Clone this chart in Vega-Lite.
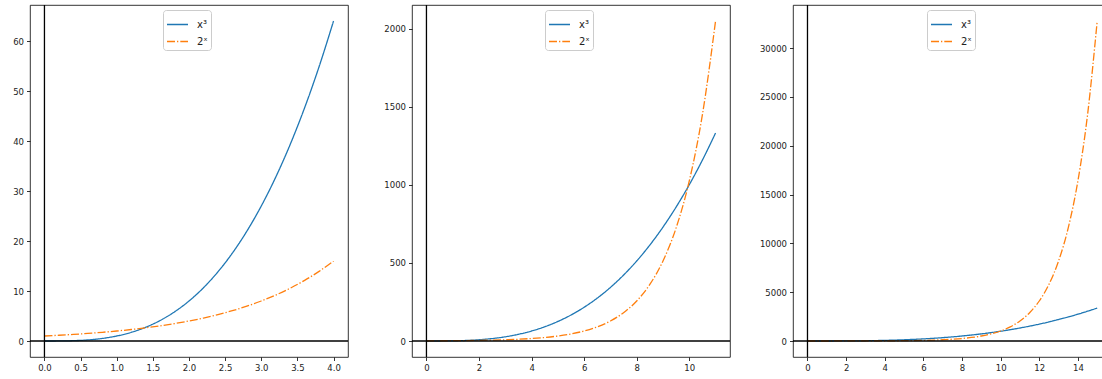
{
  "$schema": "https://vega.github.io/schema/vega-lite/v6.json",
  "padding": {"left": 0, "top": 3, "right": 0, "bottom": 0},
  "spacing": 0,
  "background": "white",
  "config": {
    "font": "DejaVu Sans",
    "view": {"stroke": "#000", "strokeWidth": 0.8},
    "axis": {"domain": false, "grid": false, "ticks": true, "tickColor": "#000", "tickSize": 3.5, "tickWidth": 0.8, "labelPadding": 3, "labelFont": "DejaVu Sans", "labelFontSize": 8.5, "labelColor": "#222", "title": null, "labelOverlap": false},
    "legend": {"orient": "none", "title": null, "symbolType": "stroke", "symbolSize": 441, "symbolStrokeWidth": 1.3, "labelFont": "DejaVu Sans", "labelFontSize": 10, "labelColor": "#222", "fillColor": "rgba(255,255,255,0.8)", "strokeColor": "#cccccc", "cornerRadius": 3, "padding": 3, "labelOffset": 8, "rowPadding": -6}
  },
  "resolve": {"legend": {"color": "independent", "strokeDash": "independent"}},
  "datasets": {
    "p1": [
      {"x":0,"f":"x³","y":0},{"x":0.2,"f":"x³","y":0.008},{"x":0.4,"f":"x³","y":0.064},{"x":0.6,"f":"x³","y":0.216},{"x":0.8,"f":"x³","y":0.512},{"x":1,"f":"x³","y":1},{"x":1.2,"f":"x³","y":1.728},{"x":1.4,"f":"x³","y":2.744},{"x":1.6,"f":"x³","y":4.096},{"x":1.8,"f":"x³","y":5.832},{"x":2,"f":"x³","y":8},{"x":2.2,"f":"x³","y":10.648},{"x":2.4,"f":"x³","y":13.824},{"x":2.6,"f":"x³","y":17.576},{"x":2.8,"f":"x³","y":21.952},{"x":3,"f":"x³","y":27},{"x":3.2,"f":"x³","y":32.768},{"x":3.4,"f":"x³","y":39.304},{"x":3.6,"f":"x³","y":46.656},{"x":3.8,"f":"x³","y":54.872},{"x":4,"f":"x³","y":64},
      {"x":0,"f":"2ˣ","y":1},{"x":0.2,"f":"2ˣ","y":1.149},{"x":0.4,"f":"2ˣ","y":1.32},{"x":0.6,"f":"2ˣ","y":1.516},{"x":0.8,"f":"2ˣ","y":1.741},{"x":1,"f":"2ˣ","y":2},{"x":1.2,"f":"2ˣ","y":2.297},{"x":1.4,"f":"2ˣ","y":2.639},{"x":1.6,"f":"2ˣ","y":3.031},{"x":1.8,"f":"2ˣ","y":3.482},{"x":2,"f":"2ˣ","y":4},{"x":2.2,"f":"2ˣ","y":4.595},{"x":2.4,"f":"2ˣ","y":5.278},{"x":2.6,"f":"2ˣ","y":6.063},{"x":2.8,"f":"2ˣ","y":6.964},{"x":3,"f":"2ˣ","y":8},{"x":3.2,"f":"2ˣ","y":9.19},{"x":3.4,"f":"2ˣ","y":10.556},{"x":3.6,"f":"2ˣ","y":12.126},{"x":3.8,"f":"2ˣ","y":13.929},{"x":4,"f":"2ˣ","y":16}
    ],
    "p2": [
      {"x":0,"f":"x³","y":0},{"x":0.5,"f":"x³","y":0.125},{"x":1,"f":"x³","y":1},{"x":1.5,"f":"x³","y":3.375},{"x":2,"f":"x³","y":8},{"x":2.5,"f":"x³","y":15.625},{"x":3,"f":"x³","y":27},{"x":3.5,"f":"x³","y":42.875},{"x":4,"f":"x³","y":64},{"x":4.5,"f":"x³","y":91.125},{"x":5,"f":"x³","y":125},{"x":5.5,"f":"x³","y":166.375},{"x":6,"f":"x³","y":216},{"x":6.5,"f":"x³","y":274.625},{"x":7,"f":"x³","y":343},{"x":7.5,"f":"x³","y":421.875},{"x":8,"f":"x³","y":512},{"x":8.5,"f":"x³","y":614.125},{"x":9,"f":"x³","y":729},{"x":9.5,"f":"x³","y":857.375},{"x":10,"f":"x³","y":1000},{"x":10.5,"f":"x³","y":1157.625},{"x":11,"f":"x³","y":1331},
      {"x":0,"f":"2ˣ","y":1},{"x":0.5,"f":"2ˣ","y":1.414},{"x":1,"f":"2ˣ","y":2},{"x":1.5,"f":"2ˣ","y":2.828},{"x":2,"f":"2ˣ","y":4},{"x":2.5,"f":"2ˣ","y":5.657},{"x":3,"f":"2ˣ","y":8},{"x":3.5,"f":"2ˣ","y":11.314},{"x":4,"f":"2ˣ","y":16},{"x":4.5,"f":"2ˣ","y":22.627},{"x":5,"f":"2ˣ","y":32},{"x":5.5,"f":"2ˣ","y":45.255},{"x":6,"f":"2ˣ","y":64},{"x":6.5,"f":"2ˣ","y":90.51},{"x":7,"f":"2ˣ","y":128},{"x":7.5,"f":"2ˣ","y":181.02},{"x":8,"f":"2ˣ","y":256},{"x":8.5,"f":"2ˣ","y":362.04},{"x":9,"f":"2ˣ","y":512},{"x":9.5,"f":"2ˣ","y":724.08},{"x":10,"f":"2ˣ","y":1024},{"x":10.5,"f":"2ˣ","y":1448.15},{"x":11,"f":"2ˣ","y":2048}
    ],
    "p3": [
      {"x":0,"f":"x³","y":0},{"x":0.5,"f":"x³","y":0.125},{"x":1,"f":"x³","y":1},{"x":1.5,"f":"x³","y":3.375},{"x":2,"f":"x³","y":8},{"x":2.5,"f":"x³","y":15.625},{"x":3,"f":"x³","y":27},{"x":3.5,"f":"x³","y":42.875},{"x":4,"f":"x³","y":64},{"x":4.5,"f":"x³","y":91.125},{"x":5,"f":"x³","y":125},{"x":5.5,"f":"x³","y":166.375},{"x":6,"f":"x³","y":216},{"x":6.5,"f":"x³","y":274.625},{"x":7,"f":"x³","y":343},{"x":7.5,"f":"x³","y":421.875},{"x":8,"f":"x³","y":512},{"x":8.5,"f":"x³","y":614.125},{"x":9,"f":"x³","y":729},{"x":9.5,"f":"x³","y":857.375},{"x":10,"f":"x³","y":1000},{"x":10.5,"f":"x³","y":1157.625},{"x":11,"f":"x³","y":1331},{"x":11.5,"f":"x³","y":1520.875},{"x":12,"f":"x³","y":1728},{"x":12.5,"f":"x³","y":1953.125},{"x":13,"f":"x³","y":2197},{"x":13.5,"f":"x³","y":2460.375},{"x":14,"f":"x³","y":2744},{"x":14.5,"f":"x³","y":3048.625},{"x":15,"f":"x³","y":3375},
      {"x":0,"f":"2ˣ","y":1},{"x":0.5,"f":"2ˣ","y":1.414},{"x":1,"f":"2ˣ","y":2},{"x":1.5,"f":"2ˣ","y":2.828},{"x":2,"f":"2ˣ","y":4},{"x":2.5,"f":"2ˣ","y":5.657},{"x":3,"f":"2ˣ","y":8},{"x":3.5,"f":"2ˣ","y":11.314},{"x":4,"f":"2ˣ","y":16},{"x":4.5,"f":"2ˣ","y":22.627},{"x":5,"f":"2ˣ","y":32},{"x":5.5,"f":"2ˣ","y":45.255},{"x":6,"f":"2ˣ","y":64},{"x":6.5,"f":"2ˣ","y":90.51},{"x":7,"f":"2ˣ","y":128},{"x":7.5,"f":"2ˣ","y":181.02},{"x":8,"f":"2ˣ","y":256},{"x":8.5,"f":"2ˣ","y":362.04},{"x":9,"f":"2ˣ","y":512},{"x":9.5,"f":"2ˣ","y":724.08},{"x":10,"f":"2ˣ","y":1024},{"x":10.5,"f":"2ˣ","y":1448.15},{"x":11,"f":"2ˣ","y":2048},{"x":11.5,"f":"2ˣ","y":2896.31},{"x":12,"f":"2ˣ","y":4096},{"x":12.5,"f":"2ˣ","y":5792.62},{"x":13,"f":"2ˣ","y":8192},{"x":13.5,"f":"2ˣ","y":11585.24},{"x":14,"f":"2ˣ","y":16384},{"x":14.5,"f":"2ˣ","y":23170.48},{"x":15,"f":"2ˣ","y":32768}
    ]
  },
  "hconcat": [
    {
      "width": 318, "height": 352,
      "layer": [
        {
          "data": {"name": "p1"},
          "mark": {"type": "line", "strokeWidth": 1.3, "interpolate": "monotone"},
          "encoding": {
            "x": {"field": "x", "type": "quantitative", "scale": {"domain": [-0.2, 4.2], "nice": false, "zero": false}, "axis": {"values": [0, 0.5, 1, 1.5, 2, 2.5, 3, 3.5, 4], "format": ".1f", "labelOverlap": false, "tickCount": 9}},
            "y": {"field": "y", "type": "quantitative", "scale": {"domain": [-3.2, 67.2], "nice": false, "zero": false}, "axis": {"values": [0, 10, 20, 30, 40, 50, 60], "format": "d", "minExtent": 29, "maxExtent": 29}},
            "color": {"field": "f", "type": "nominal", "scale": {"domain": ["x³", "2ˣ"], "range": ["#1f77b4", "#ff7f0e"]}, "legend": {"legendX": 133, "legendY": 5}},
            "strokeDash": {"field": "f", "type": "nominal", "scale": {"domain": ["x³", "2ˣ"], "range": [[1, 0], [8, 2, 1.3, 2]]}, "legend": {"legendX": 133, "legendY": 5}}
          }
        },
        {"data": {"values": [{}]}, "mark": {"type": "rule", "color": "black", "strokeWidth": 1.3}, "encoding": {"y": {"datum": 0}}},
        {"data": {"values": [{}]}, "mark": {"type": "rule", "color": "black", "strokeWidth": 1.3}, "encoding": {"x": {"datum": 0}}}
      ]
    },
    {
      "width": 318, "height": 352,
      "layer": [
        {
          "data": {"name": "p2"},
          "mark": {"type": "line", "strokeWidth": 1.3, "interpolate": "monotone"},
          "encoding": {
            "x": {"field": "x", "type": "quantitative", "scale": {"domain": [-0.55, 11.55], "nice": false, "zero": false}, "axis": {"values": [0, 2, 4, 6, 8, 10], "format": "d"}},
            "y": {"field": "y", "type": "quantitative", "scale": {"domain": [-102.4, 2150.4], "nice": false, "zero": false}, "axis": {"values": [0, 500, 1000, 1500, 2000], "format": "d", "minExtent": 61, "maxExtent": 61}},
            "color": {"field": "f", "type": "nominal", "scale": {"domain": ["x³", "2ˣ"], "range": ["#1f77b4", "#ff7f0e"]}, "legend": {"legendX": 133, "legendY": 5}},
            "strokeDash": {"field": "f", "type": "nominal", "scale": {"domain": ["x³", "2ˣ"], "range": [[1, 0], [8, 2, 1.3, 2]]}, "legend": {"legendX": 133, "legendY": 5}}
          }
        },
        {"data": {"values": [{}]}, "mark": {"type": "rule", "color": "black", "strokeWidth": 1.3}, "encoding": {"y": {"datum": 0}}},
        {"data": {"values": [{}]}, "mark": {"type": "rule", "color": "black", "strokeWidth": 1.3}, "encoding": {"x": {"datum": 0}}}
      ]
    },
    {
      "width": 310, "height": 352,
      "layer": [
        {
          "data": {"name": "p3"},
          "mark": {"type": "line", "strokeWidth": 1.3, "interpolate": "monotone"},
          "encoding": {
            "x": {"field": "x", "type": "quantitative", "scale": {"domain": [-0.75, 15.3], "nice": false, "zero": false}, "axis": {"values": [0, 2, 4, 6, 8, 10, 12, 14], "format": "d"}},
            "y": {"field": "y", "type": "quantitative", "scale": {"domain": [-1638.4, 34406.4], "nice": false, "zero": false}, "axis": {"values": [0, 5000, 10000, 15000, 20000, 25000, 30000], "format": "d", "minExtent": 60, "maxExtent": 60}},
            "color": {"field": "f", "type": "nominal", "scale": {"domain": ["x³", "2ˣ"], "range": ["#1f77b4", "#ff7f0e"]}, "legend": {"legendX": 134, "legendY": 5}},
            "strokeDash": {"field": "f", "type": "nominal", "scale": {"domain": ["x³", "2ˣ"], "range": [[1, 0], [8, 2, 1.3, 2]]}, "legend": {"legendX": 134, "legendY": 5}}
          }
        },
        {"data": {"values": [{}]}, "mark": {"type": "rule", "color": "black", "strokeWidth": 1.3}, "encoding": {"y": {"datum": 0}}},
        {"data": {"values": [{}]}, "mark": {"type": "rule", "color": "black", "strokeWidth": 1.3}, "encoding": {"x": {"datum": 0}}}
      ]
    }
  ]
}
